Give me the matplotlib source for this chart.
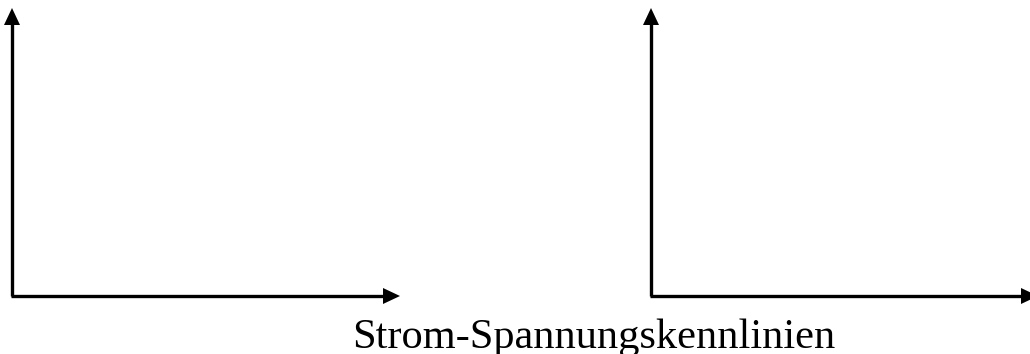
import matplotlib.pyplot as plt

# pixel layout of the two empty diagrams (origin, top of y arrow, end of x arrow)
origins_x = [12, 651]
origin_y = 296
y_tips = [8, 8]
x_tips = [400, 1038]
caption = "Strom-Spannungskennlinien"


def main() -> None:
    fig = plt.figure(figsize=(10.30, 3.54), dpi=100)
    ax = fig.add_axes([0, 0, 1, 1])
    ax.set_xlim(0, 1030)
    ax.set_ylim(354, 0)
    ax.set_axis_off()

    for x0, yt, xt in zip(origins_x, y_tips, x_tips):
        ax.plot([x0, x0], [origin_y, yt + 14], color="k", lw=2.4,
                solid_capstyle="butt")
        ax.plot([x0 - 1.2, xt - 14], [origin_y, origin_y], color="k", lw=2.4,
                solid_capstyle="butt")
        ax.arrow(x0, yt + 17, 0, -17, width=0.1, head_width=16,
                 head_length=17, length_includes_head=True, color="k", lw=0)
        ax.arrow(xt - 17, origin_y, 17, 0, width=0.1, head_width=16,
                 head_length=17, length_includes_head=True, color="k", lw=0)

    ax.text(594, 348, caption, ha="center", va="baseline",
            family="Liberation Serif", fontsize=30.5, color="k")

    fig.savefig("out.png", dpi=100, facecolor="white")


if __name__ == "__main__":
    main()
